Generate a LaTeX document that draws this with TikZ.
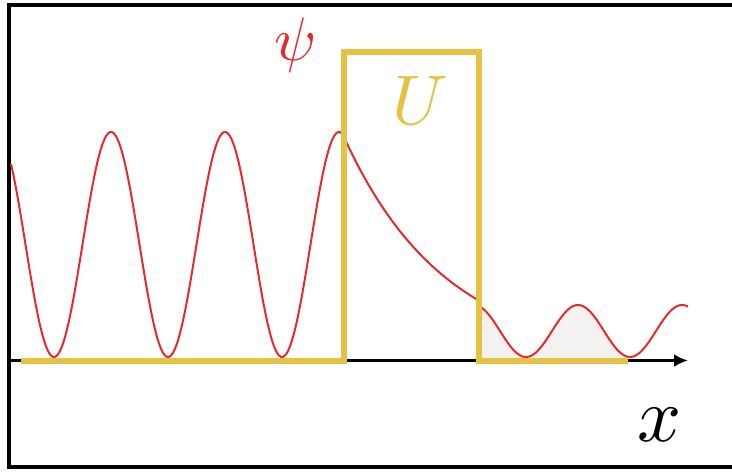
\documentclass[tikz,border=0pt]{standalone}
\usetikzlibrary{arrows.meta}
\definecolor{wavered}{HTML}{E42A2E}
\definecolor{potyellow}{HTML}{E4C244}
\definecolor{tunnelgray}{HTML}{F3F2F1}
\tikzset{
  frameline/.style={line width=0.08cm, black},
  axisline/.style={line width=0.06cm, black, -{Latex[length=0.28cm,width=0.26cm]}},
  wave/.style={line width=0.04cm, wavered},
  potential/.style={line width=0.12cm, potyellow, line join=miter},
  lbl/.style={inner sep=0pt}
}
\begin{document}
\begin{tikzpicture}[x=0.02cm,y=-0.02cm]
\useasboundingbox (0,0) rectangle (732,472);
% frame (right side lies outside the picture)
\draw[frameline] (740,5) -- (9,5) -- (9,467) -- (740,467);
% shaded area
\fill[tunnelgray] (480,359) -- plot[domain=480:628,samples=80] (\x,{min(359,331-26*cos(3.4615*(\x-578)))}) -- (628,359) -- cycle;
% axis
\coordinate (axs) at (9,360.5);
\coordinate (axe) at (688,360.5);
\draw[axisline] (axs) -- (axe);
% wave
\draw[wave] plot[domain=11:343,samples=300] (\x,{244.5-112.5*cos(3.15789*(\x-111))})
  -- plot[domain=343:478,samples=80] (\x,{360-225*exp(-0.00979*(\x-343))})
  -- plot[domain=478:688,samples=160] (\x,{331-26*cos(3.4615*(\x-578))});
% potential
\draw[potential] (21,360.5) -- (343.5,360.5) -- (343.5,52.5) -- (478.5,52.5) -- (478.5,360.5) -- (628,360.5);
% labels
\node[lbl, text=wavered] (psi) at (296,45) {\scalebox{3.5}{$\psi$}};
\node[lbl, text=potyellow] (U) at (420,100) {\scalebox{4}{$U$}};
\node[lbl, text=black] (xlab) at (660,425) {\scalebox{4.4}{$x$}};
\end{tikzpicture}
\end{document}
